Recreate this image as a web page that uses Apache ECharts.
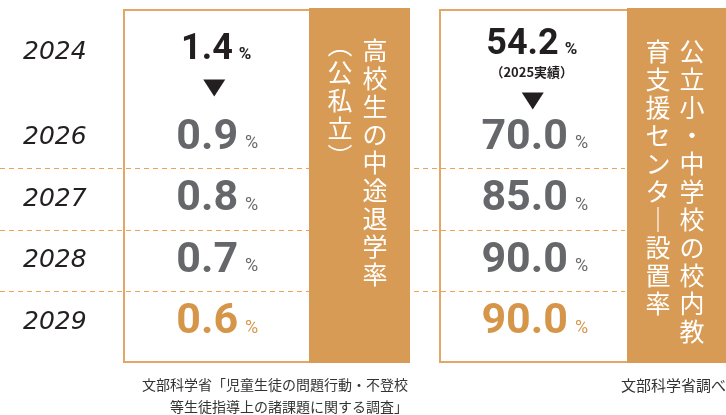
<!DOCTYPE html>
<html>
<head>
<meta charset="utf-8">
<title>中途退学率・校内教育支援センター設置率</title>
<script src="https://cdn.jsdelivr.net/npm/echarts@6/dist/echarts.min.js"></script>
<style>
    html, body { margin: 0; padding: 0; background: #fff; }
    #main { width: 726px; height: 415px; }
</style>
</head>
<body>
<div id="main"></div>
<script>
// 指標と年
var indicators = ['高校生の中途退学率（公私立）', '公立小・中学校の校内教育支援センター設置率'];
var baseYears = ['2024'];
var baseValues = [1.4, 54.2];
var baseNotes = ['', '（2025実績）'];
var targetYears = ['2026', '2027', '2028', '2029'];
var dropoutRate = [0.9, 0.8, 0.7, 0.6];
var supportCenterRate = [70.0, 85.0, 90.0, 90.0];
// 見出し（縦書き、左列・右列）
var headerCols = [['（公私立）', '高校生の中途退学率'], ['育支援センター設置率', '公立小・中学校の校内教']];
var sourceLeft = ['文部科学省「児童生徒の問題行動・不登校', '等生徒指導上の諸課題に関する調査」'];
var sourceRight = '文部科学省調べ';

var ORANGE = '#D79B55', BORDER = '#E2A766', DASH = '#E9A457',
    GRAY = '#66676A', INK = '#231F20', HILITE = '#D6964A';
var NUM_FONT = 'Roboto', JP_FONT = '"Noto Sans CJK JP"';

function vertical(s) {
    var map = { '（': '︵', '）': '︶', 'ー': '｜' };
    return s.split('').map(function (c) { return map[c] || c; }).join('\n');
}

var chart = echarts.init(document.getElementById('main'));

var yearLabel = {
    inside: true, margin: 23,
    fontFamily: 'DejaVu Sans', fontStyle: 'italic', fontSize: 25, color: INK
};

var numRich = {
    gv: { fontFamily: NUM_FONT, fontWeight: 'bold', fontSize: 43, color: GRAY, lineHeight: 46 },
    gp: { fontFamily: NUM_FONT, fontSize: 18, color: GRAY, padding: [12, 0, 0, 7] },
    hv: { fontFamily: NUM_FONT, fontWeight: 'bold', fontSize: 43, color: HILITE, lineHeight: 46 },
    hp: { fontFamily: NUM_FONT, fontSize: 18, color: HILITE, padding: [12, 0, 0, 7] },
    bv: { fontFamily: NUM_FONT, fontWeight: 'bold', fontSize: 36, color: INK, lineHeight: 36 },
    bp: { fontFamily: NUM_FONT, fontWeight: 'bold', fontSize: 17, color: INK, padding: [10, 0, 0, 6] },
    bn: { fontFamily: JP_FONT, fontWeight: 'bold', fontSize: 13, color: INK, lineHeight: 18 }
};

function targetSeries(col, values, dx) {
    return {
        type: 'scatter', xAxisIndex: 1, yAxisIndex: 1,
        symbolSize: 0, silent: true,
        itemStyle: { opacity: 1 },
        data: values.map(function (v, i) { return [col, i, v]; }),
        label: {
            show: true, position: 'inside', offset: [dx, 0],
            textBorderWidth: 0, opacity: 1,
            rich: numRich,
            formatter: function (p) {
                var k = p.dataIndex === values.length - 1 ? 'h' : 'g';
                return '{' + k + 'v|' + p.value[2].toFixed(1) + '}{' + k + 'p|%}';
            }
        }
    };
}

var option = {
    animation: false,
    grid: [
        { left: 0, top: 10, width: 625, height: 84 },
        { left: 0, top: 107, width: 625, height: 246 }
    ],
    xAxis: [
        { gridIndex: 0, type: 'category', data: indicators, show: false },
        { gridIndex: 1, type: 'category', data: indicators, show: false }
    ],
    yAxis: [
        {
            gridIndex: 0, type: 'category', data: baseYears, inverse: true,
            axisLine: { show: false }, axisTick: { show: false }, splitLine: { show: false },
            axisLabel: yearLabel
        },
        {
            gridIndex: 1, type: 'category', data: targetYears, inverse: true,
            axisLine: { show: false }, axisTick: { show: false },
            splitLine: {
                show: true, showMinLine: false, showMaxLine: false,
                lineStyle: { color: DASH, width: 1, type: [5, 4] }
            },
            axisLabel: yearLabel
        }
    ],
    series: [
        {
            type: 'scatter', xAxisIndex: 0, yAxisIndex: 0,
            symbolSize: 0, silent: true,
            itemStyle: { opacity: 1 },
            data: baseValues.map(function (v, i) { return [i, 0, v]; }),
            label: {
                show: true, position: 'inside',
                textBorderWidth: 0, opacity: 1,
                rich: numRich,
                formatter: function (p) {
                    var s = '{bv|' + p.value[2].toFixed(1) + '}{bp|%}';
                    var note = baseNotes[p.dataIndex];
                    return note ? s + '\n{bn|' + note + '}' : s;
                }
            },
            labelLayout: function (p) {
                return p.dataIndex === 0 ? { dx: 60, dy: -2 } : { dx: 63, dy: 2 };
            }
        },
        {
            // 矢印
            type: 'scatter', xAxisIndex: 0, yAxisIndex: 0, silent: true,
            symbol: 'triangle', symbolRotate: 180, symbolSize: [22, 17],
            itemStyle: { color: INK, opacity: 1 },
            data: [
                { value: [0, 0], symbolOffset: [58, 36] },
                { value: [1, 0], symbolOffset: [64, 49] }
            ]
        },
        targetSeries(0, dropoutRate, 61),
        targetSeries(1, supportCenterRate, 66)
    ],
    graphic: [
        { type: 'rect', z: 10, shape: { x: 124, y: 10, width: 186, height: 352 },
          style: { fill: 'none', stroke: BORDER, lineWidth: 2 } },
        { type: 'rect', z: 10, shape: { x: 440, y: 10, width: 188, height: 352 },
          style: { fill: 'none', stroke: BORDER, lineWidth: 2 } },
        { type: 'rect', z: 11, shape: { x: 309, y: 8, width: 101, height: 355 },
          style: { fill: ORANGE } },
        { type: 'rect', z: 11, shape: { x: 627, y: 8, width: 99, height: 355 },
          style: { fill: ORANGE } },
        { type: 'text', z: 12, x: 340, y: 30,
          style: { text: vertical(headerCols[0][0]), fill: '#fff', fontFamily: JP_FONT, fontSize: 25,
                   lineHeight: 28, align: 'center', textAlign: 'center', verticalAlign: 'top', textVerticalAlign: 'top' } },
        { type: 'text', z: 12, x: 375, y: 36,
          style: { text: vertical(headerCols[0][1]), fill: '#fff', fontFamily: JP_FONT, fontSize: 25,
                   lineHeight: 28, align: 'center', textAlign: 'center', verticalAlign: 'top', textVerticalAlign: 'top' } },
        { type: 'text', z: 12, x: 658, y: 37,
          style: { text: vertical(headerCols[1][0]), fill: '#fff', fontFamily: JP_FONT, fontSize: 25,
                   lineHeight: 28, align: 'center', textAlign: 'center', verticalAlign: 'top', textVerticalAlign: 'top' } },
        { type: 'text', z: 12, x: 692, y: 37,
          style: { text: vertical(headerCols[1][1]), fill: '#fff', fontFamily: JP_FONT, fontSize: 25,
                   lineHeight: 28, align: 'center', textAlign: 'center', verticalAlign: 'top', textVerticalAlign: 'top' } },
        { type: 'text', z: 12, x: 408, y: 374,
          style: { text: sourceLeft.join('\n'), fill: '#333', fontFamily: JP_FONT, fontSize: 14,
                   lineHeight: 22, align: 'right', textAlign: 'right', verticalAlign: 'top', textVerticalAlign: 'top' } },
        { type: 'text', z: 12, x: 621, y: 374,
          style: { text: sourceRight, fill: '#333', fontFamily: JP_FONT, fontSize: 15,
                   lineHeight: 22, align: 'left', textAlign: 'left', verticalAlign: 'top', textVerticalAlign: 'top' } }
    ]
};

chart.setOption(option);
window.onresize = function () { chart.resize(); };
</script>
</body>
</html>
